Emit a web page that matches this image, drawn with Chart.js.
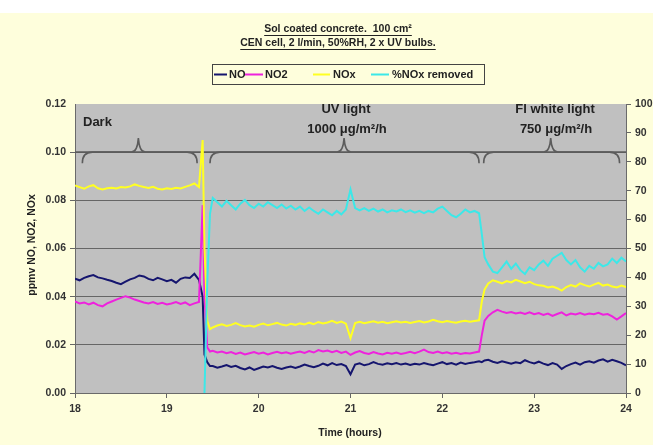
<!DOCTYPE html>
<html>
<head>
<meta charset="utf-8">
<script src="https://cdn.jsdelivr.net/npm/chart.js@4"></script>
<style>
  html, body { margin: 0; padding: 0; background: #fefedc; }
  canvas { display: block; }
</style>
</head>
<body>
<canvas id="c" width="653" height="445"></canvas>
<script>
// ---- Data ----
const times = [
  18.00,18.05,18.10,18.15,18.20,18.25,18.30,18.35,18.40,18.45,18.50,18.55,18.60,18.65,18.70,18.75,18.80,18.85,18.90,18.95,19.00,19.05,19.10,19.15,19.20,19.25,19.30,19.35,
  19.39,19.41,19.44,19.47,
  19.50,19.55,19.60,19.65,19.70,19.75,19.80,19.85,19.90,19.95,20.00,20.05,20.10,20.15,20.20,20.25,20.30,20.35,20.40,20.45,20.50,20.55,20.60,20.65,20.70,20.75,20.80,20.85,20.90,20.95,
  21.00,21.05,21.10,21.15,21.20,21.25,21.30,21.35,21.40,21.45,21.50,21.55,21.60,21.65,21.70,21.75,21.80,21.85,21.90,21.95,22.00,22.05,22.10,22.15,22.20,22.25,22.30,22.35,22.40,
  22.43,22.46,
  22.50,22.55,22.60,22.65,22.70,22.75,22.80,22.85,22.90,22.95,23.00,23.05,23.10,23.15,23.20,23.25,23.30,23.35,23.40,23.45,23.50,23.55,23.60,23.65,23.70,23.75,23.80,23.85,23.90,23.95,24.00
];

const noValues = [
  .0475,.0468,.0478,.0485,.0490,.0480,.0476,.0470,.0465,.0458,.0452,.0462,.0472,.0478,.0488,.0484,.0474,.0468,.0478,.0472,.0464,.0470,.0458,.0474,.0480,.0478,.0495,.0470,
  .0400,.0160,.0128,.0112,
  .0112,.0105,.0110,.0116,.0108,.0113,.0104,.0098,.0106,.0096,.0103,.0110,.0106,.0112,.0105,.0100,.0106,.0110,.0104,.0110,.0118,.0112,.0107,.0113,.0122,.0115,.0124,.0116,.0120,.0112,
  .0078,.0118,.0123,.0115,.0120,.0128,.0121,.0117,.0123,.0119,.0124,.0118,.0122,.0116,.0121,.0118,.0124,.0119,.0115,.0122,.0128,.0120,.0124,.0118,.0126,.0121,.0125,.0128,.0132,
  .0128,.0135,
  .0138,.0130,.0125,.0132,.0127,.0122,.0128,.0124,.0136,.0128,.0123,.0130,.0122,.0116,.0124,.0118,.0100,.0112,.0120,.0126,.0118,.0128,.0132,.0126,.0135,.0140,.0130,.0138,.0132,.0125,.0115
];

const no2Values = [
  .0380,.0372,.0376,.0368,.0375,.0365,.0360,.0372,.0380,.0388,.0395,.0402,.0396,.0388,.0382,.0376,.0372,.0378,.0370,.0375,.0368,.0372,.0378,.0370,.0376,.0365,.0372,.0378,
  .0780,.0400,.0190,.0172,
  .0175,.0168,.0172,.0165,.0170,.0162,.0168,.0160,.0165,.0170,.0163,.0168,.0160,.0166,.0171,.0165,.0169,.0163,.0168,.0172,.0166,.0174,.0168,.0178,.0172,.0176,.0169,.0175,.0166,.0172,
  .0158,.0168,.0174,.0166,.0162,.0170,.0164,.0160,.0167,.0163,.0168,.0162,.0166,.0171,.0165,.0172,.0180,.0170,.0166,.0172,.0165,.0169,.0163,.0167,.0162,.0166,.0164,.0168,.0172,
  .0240,.0300,
  .0320,.0335,.0345,.0338,.0332,.0336,.0330,.0334,.0328,.0335,.0327,.0332,.0324,.0330,.0320,.0328,.0335,.0322,.0330,.0326,.0332,.0325,.0330,.0327,.0333,.0325,.0328,.0318,.0305,.0318,.0332
];

const noxValues = [
  .0862,.0855,.0848,.0858,.0863,.0850,.0845,.0850,.0852,.0849,.0855,.0853,.0858,.0866,.0860,.0855,.0851,.0856,.0848,.0845,.0850,.0847,.0852,.0849,.0856,.0862,.0870,.0855,
  .1050,.0600,.0300,.0265,
  .0272,.0280,.0285,.0278,.0283,.0290,.0282,.0276,.0280,.0275,.0283,.0288,.0281,.0286,.0291,.0284,.0280,.0287,.0283,.0289,.0285,.0292,.0286,.0295,.0289,.0293,.0300,.0291,.0297,.0288,
  .0228,.0290,.0296,.0290,.0294,.0298,.0292,.0296,.0290,.0294,.0298,.0293,.0296,.0291,.0295,.0299,.0293,.0297,.0304,.0298,.0294,.0299,.0295,.0292,.0297,.0300,.0296,.0299,.0302,
  .0380,.0430,
  .0455,.0468,.0462,.0455,.0465,.0459,.0470,.0463,.0456,.0462,.0452,.0447,.0445,.0438,.0442,.0435,.0425,.0440,.0448,.0442,.0455,.0448,.0442,.0450,.0457,.0446,.0450,.0442,.0438,.0446,.0440
];

const removedValues = [
  null,null,null,null,null,null,null,null,null,null,null,null,null,null,null,null,null,null,null,null,null,null,null,null,null,null,null,null,
  null,0,38,62,
  67.5,66.0,64.5,66.5,65.0,63.5,65.5,66.8,65.0,64.0,65.5,64.5,66.0,65.0,64.0,65.2,63.8,64.8,63.5,64.5,63.0,64.2,63.0,62.0,63.5,62.5,61.5,63.0,61.8,63.5,
  70.5,64.0,63.2,64.0,63.0,63.8,62.8,63.5,62.5,63.2,62.8,63.5,62.6,63.2,62.4,63.0,62.2,63.0,62.5,63.8,64.5,63.0,61.5,60.8,62.0,63.5,62.5,63.0,62.2,
  55.0,47.0,
  44.5,42.0,41.5,43.5,45.5,43.0,44.8,42.5,41.2,43.5,42.5,44.5,45.8,44.0,46.5,47.5,48.5,46.0,44.5,46.0,43.5,42.0,44.0,43.0,45.0,43.8,44.5,46.5,45.0,46.8,45.5
];

const seriesNames = ['NO', 'NO2', 'NOx', '%NOx removed'];
const leftTicks = [0, 0.12, 0.02];
const rightTicks = [0, 100, 10];
const xTicks = [18, 24, 1];

// period braces: [start, end, peak] in hours
const periods = [[18.08, 19.33, 18.69], [19.47, 22.40, 20.93], [22.45, 23.93, 23.18]];

// ---- styles ----
const colors = ['#15156e', '#ee22dd', '#ffff22', '#3ce8e8'];
const tickFont = { family: 'Liberation Sans, Arial, sans-serif', size: 10.5, weight: 'bold' };
const FONT = 'Liberation Sans, Arial, sans-serif';

function pts(vals) { return times.map((t, i) => ({ x: t, y: vals[i] })); }

const bgPlugin = {
  id: 'bg',
  beforeDraw(chart) {
    const { ctx, chartArea: a } = chart;
    ctx.save();
    ctx.fillStyle = '#fefedc';
    ctx.fillRect(0, 0, chart.width, chart.height);
    ctx.fillStyle = '#ffffff';
    ctx.fillRect(0, 0, chart.width, 13);
    ctx.fillStyle = '#c0c0c0';
    ctx.fillRect(a.left, a.top, a.right - a.left, a.bottom - a.top);
    ctx.restore();
  },
  beforeDatasetsDraw(chart) {
    const { ctx } = chart;
    const xs = chart.scales.x, ys = chart.scales.y;
    const yl = ys.getPixelForValue(0.10);
    ctx.save();
    ctx.strokeStyle = '#5c5c5c';
    ctx.lineWidth = 1.6;
    periods.forEach(([s, e, m]) => {
      const x0 = xs.getPixelForValue(s), x1 = xs.getPixelForValue(e), xm = xs.getPixelForValue(m);
      const d = 11, h = 14, c = 10;
      ctx.beginPath();
      ctx.moveTo(x0, yl + d);
      ctx.quadraticCurveTo(x0, yl, x0 + c, yl);
      ctx.lineTo(xm - 7, yl);
      ctx.quadraticCurveTo(xm - 1, yl, xm, yl - h);
      ctx.quadraticCurveTo(xm + 1, yl, xm + 7, yl);
      ctx.lineTo(x1 - c, yl);
      ctx.quadraticCurveTo(x1, yl, x1, yl + d);
      ctx.stroke();
    });
    ctx.beginPath();
    ctx.moveTo(chart.chartArea.left, yl);
    ctx.lineTo(chart.chartArea.right, yl);
    ctx.stroke();
    ctx.restore();
  },
  afterDraw(chart) {
    const { ctx } = chart;
    ctx.save();
    ctx.fillStyle = '#222';
    ctx.textBaseline = 'middle';
    // title
    ctx.textAlign = 'center';
    ctx.font = 'bold 10.5px ' + FONT;
    const titles = [['Sol coated concrete.  100 cm²', 29], ['CEN cell, 2 l/min, 50%RH, 2 x UV bulbs.', 43]];
    titles.forEach(([t, y]) => {
      ctx.fillText(t, 338, y);
      const w = ctx.measureText(t).width;
      ctx.fillRect(338 - w / 2, y + 6, w, 1);
    });
    // legend
    ctx.strokeStyle = '#444';
    ctx.lineWidth = 1;
    ctx.strokeRect(212.5, 64.5, 272, 20);
    const lg = [[214, 227, 229], [245, 263, 265], [313, 330, 333], [371, 389, 392]];
    ctx.font = 'bold 11px ' + FONT;
    ctx.textAlign = 'left';
    lg.forEach(([a, b, tx], i) => {
      ctx.strokeStyle = colors[i];
      ctx.lineWidth = 2;
      ctx.beginPath(); ctx.moveTo(a, 74.5); ctx.lineTo(b, 74.5); ctx.stroke();
      ctx.fillStyle = '#222';
      ctx.fillText(seriesNames[i], tx, 75);
    });
    // axis titles
    ctx.font = 'bold 10.5px ' + FONT;
    ctx.textAlign = 'center';
    ctx.fillText('Time (hours)', 350, 433);
    ctx.save();
    ctx.translate(32, 245);
    ctx.rotate(-Math.PI / 2);
    ctx.fillText('ppmv NO, NO2, NOx', 0, 0);
    ctx.restore();
    // period labels
    ctx.font = 'bold 13px ' + FONT;
    ctx.textAlign = 'left';
    ctx.fillText('Dark', 83, 122);
    ctx.textAlign = 'center';
    ctx.fillText('UV light', 346, 109);
    ctx.fillText('1000 μg/m²/h', 347, 129);
    ctx.fillText('Fl white light', 555, 109);
    ctx.fillText('750 μg/m²/h', 556, 129);
    ctx.restore();
  }
};

new Chart(document.getElementById('c'), {
  type: 'line',
  data: {
    datasets: [
      { label: seriesNames[0], data: pts(noValues), borderColor: colors[0], yAxisID: 'y', order: 3 },
      { label: seriesNames[1], data: pts(no2Values), borderColor: colors[1], yAxisID: 'y', order: 2 },
      { label: seriesNames[2], data: pts(noxValues), borderColor: colors[2], yAxisID: 'y', order: 1 },
      { label: seriesNames[3], data: pts(removedValues), borderColor: colors[3], yAxisID: 'y1', order: 0 }
    ]
  },
  options: {
    responsive: false,
    animation: false,
    parsing: true,
    elements: { line: { borderWidth: 2, tension: 0 }, point: { radius: 0 } },
    layout: { padding: { top: 104, left: 0, right: 0, bottom: 0 } },
    plugins: { legend: { display: false }, title: { display: false }, tooltip: { enabled: false } },
    scales: {
      x: {
        type: 'linear', min: xTicks[0], max: xTicks[1], position: 'bottom',
        ticks: { stepSize: xTicks[2], padding: 5, color: '#333', font: tickFont },
        grid: { drawOnChartArea: false, tickLength: 5, color: '#666' },
        border: { color: '#6a6a6a', width: 1 },
        afterFit(s) { s.height = 52; }
      },
      y: {
        type: 'linear', min: leftTicks[0], max: leftTicks[1], position: 'left',
        ticks: { stepSize: leftTicks[2], padding: 4, color: '#333', font: tickFont, callback: v => v.toFixed(2) },
        grid: { tickLength: 5, color: ctx => (ctx.tick && ctx.tick.value > 0.11) ? 'rgba(0,0,0,0)' : '#666' },
        border: { color: '#6a6a6a', width: 1 },
        afterFit(s) { s.width = 75; }
      },
      y1: {
        type: 'linear', min: rightTicks[0], max: rightTicks[1], position: 'right',
        ticks: { stepSize: rightTicks[2], padding: 4, color: '#333', font: tickFont },
        grid: { drawOnChartArea: false, tickLength: 5, color: '#666' },
        border: { color: '#6a6a6a', width: 1 },
        afterFit(s) { s.width = 27; }
      }
    }
  },
  plugins: [bgPlugin]
});
</script>
</body>
</html>
